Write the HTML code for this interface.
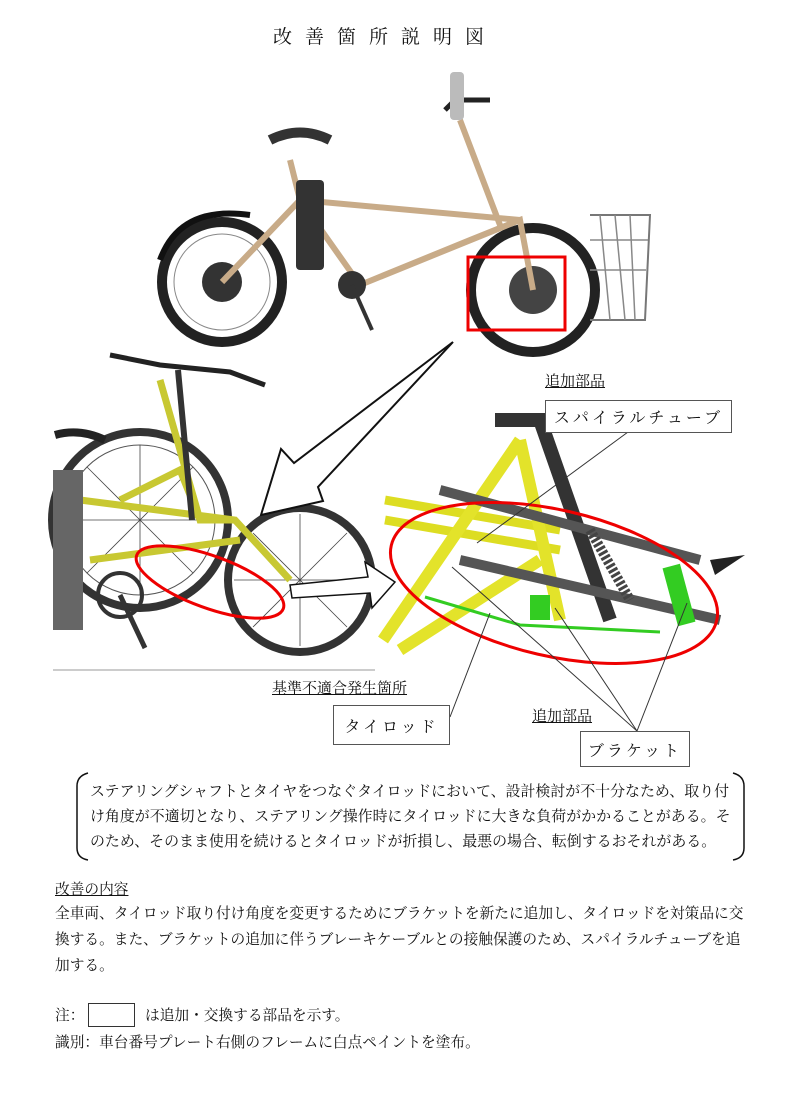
<!DOCTYPE html>
<html><head><meta charset="utf-8"><style>
body{margin:0;background:#fff;}
#p{position:relative;width:800px;height:1096px;overflow:hidden;font-family:"Liberation Serif","Noto Serif CJK SC","Noto Sans CJK JP",serif;color:#111;}
.t{position:absolute;white-space:nowrap;font-size:14.7px;line-height:1;}
.u{text-decoration:underline;}
.box{position:absolute;border:1px solid #555;background:#fff;box-sizing:border-box;font-size:16px;display:flex;align-items:center;justify-content:center;letter-spacing:3px;}
</style></head><body><div id="p">
<div class="t" style="left:273px;top:28px;font-size:19px;letter-spacing:13px;">改善箇所説明図</div>

<svg width="800" height="1096" style="position:absolute;left:0;top:0">
<!-- top bike -->
<g>
<circle cx="222" cy="282" r="60" fill="none" stroke="#222" stroke-width="10"/>
<circle cx="222" cy="282" r="48" fill="none" stroke="#888" stroke-width="1"/>
<circle cx="222" cy="282" r="20" fill="#333"/>
<path d="M160 260 Q180 205 250 215" fill="none" stroke="#111" stroke-width="6"/>
<circle cx="533" cy="290" r="62" fill="none" stroke="#222" stroke-width="10"/>
<circle cx="533" cy="290" r="24" fill="#444"/>
<path d="M590 215 L650 215 L645 320 L590 320" fill="none" stroke="#777" stroke-width="2"/>
<path d="M600 215 L610 320 M615 215 L625 320 M630 215 L635 320 M590 240 L648 240 M590 270 L646 270" stroke="#888" stroke-width="1.5"/>
<path d="M222 282 L300 200 L360 285 L470 240 L520 220 L300 200 M360 285 L520 220 L533 290 M300 200 L290 160 M460 120 L500 225" fill="none" stroke="#c8ab88" stroke-width="6"/>
<path d="M445 110 L455 100 L490 100" stroke="#222" stroke-width="5" fill="none"/>
<rect x="450" y="72" width="14" height="48" rx="4" fill="#bbb"/>
<path d="M270 140 Q300 125 330 140" stroke="#333" stroke-width="10" fill="none"/>
<rect x="296" y="180" width="28" height="90" rx="4" fill="#333"/>
<circle cx="352" cy="285" r="14" fill="#333"/>
<line x1="352" y1="285" x2="372" y2="330" stroke="#333" stroke-width="4"/>
<rect x="468" y="257" width="97" height="73" fill="none" stroke="#e00" stroke-width="3"/>
</g>
<!-- left CAD -->
<g>
<circle cx="140" cy="520" r="88" fill="none" stroke="#333" stroke-width="8"/>
<circle cx="140" cy="520" r="75" fill="none" stroke="#555" stroke-width="1"/>
<g stroke="#444" stroke-width="0.8">
<line x1="140" y1="445" x2="140" y2="595"/><line x1="65" y1="520" x2="215" y2="520"/><line x1="87" y1="467" x2="193" y2="573"/><line x1="193" y1="467" x2="87" y2="573"/>
</g>
<circle cx="300" cy="580" r="72" fill="none" stroke="#333" stroke-width="8"/>
<g stroke="#444" stroke-width="0.8">
<line x1="300" y1="514" x2="300" y2="646"/><line x1="234" y1="580" x2="366" y2="580"/><line x1="253" y1="533" x2="347" y2="627"/><line x1="347" y1="533" x2="253" y2="627"/>
</g>
<path d="M80 500 L235 520 L290 580 M90 560 L240 540 M160 380 L200 520 L235 520 M120 500 L180 470 L200 520" fill="none" stroke="#c8c832" stroke-width="7"/>
<path d="M110 355 L160 365 L230 372 L265 385" fill="none" stroke="#222" stroke-width="5"/>
<line x1="178" y1="370" x2="192" y2="520" stroke="#333" stroke-width="6"/>
<path d="M55 435 Q80 428 105 440" stroke="#222" stroke-width="8" fill="none"/>
<rect x="53" y="470" width="30" height="160" fill="#666"/>
<circle cx="120" cy="595" r="22" fill="none" stroke="#333" stroke-width="4"/>
<line x1="120" y1="595" x2="145" y2="648" stroke="#333" stroke-width="5"/>
<ellipse cx="210" cy="582" rx="78" ry="26" transform="rotate(20 210 582)" fill="none" stroke="#e00" stroke-width="3"/>
<line x1="53" y1="670" x2="375" y2="670" stroke="#999" stroke-width="1"/>
</g>
<!-- big arrow -->
<path d="M453 342 L294 463 L281 449 L261 515 L323 501 L318 487 Z" fill="#fff" stroke="#111" stroke-width="2"/>
<!-- small arrow -->
<path d="M290 585 L368 577 L365 562 L395 582 L372 608 L370 593 L292 598 Z" fill="#fff" stroke="#111" stroke-width="1.5"/>
<!-- right CAD -->
<g>
<path d="M385 500 L560 530 M385 520 L560 550" stroke="#dddd22" stroke-width="9"/>
<path d="M383 640 L520 440 M400 650 L540 560 M520 440 L560 620" stroke="#e3e32a" stroke-width="12"/>
<path d="M495 420 L540 420 L610 620" stroke="#333" stroke-width="14" fill="none"/>
<path d="M440 490 L700 560 M460 560 L720 620" stroke="#555" stroke-width="10"/>
<path d="M590 530 L630 600" stroke="#444" stroke-width="10" stroke-dasharray="3 2"/>
<path d="M425 597 L520 625 L660 632" stroke="#33cc22" stroke-width="3" fill="none"/>
<rect x="670" y="565" width="18" height="60" fill="#33cc22" transform="rotate(-15 679 595)"/>
<rect x="530" y="595" width="20" height="25" fill="#33cc22"/>
<path d="M710 560 L745 555 L715 575Z" fill="#222"/>
<ellipse cx="554" cy="583" rx="167" ry="73" transform="rotate(13 554 583)" fill="none" stroke="#e00" stroke-width="3"/>
</g>
<!-- leaders -->
<g stroke="#333" stroke-width="1" fill="none">
<line x1="628" y1="432" x2="477" y2="543"/>
<line x1="450" y1="717" x2="490" y2="613"/>
<line x1="637" y1="731" x2="452" y2="567"/>
<line x1="637" y1="731" x2="555" y2="608"/>
<line x1="637" y1="731" x2="687" y2="603"/>
</g>
<!-- brackets -->
<path d="M88 773 Q77 776 77 786 L77 848 Q77 858 88 860" fill="none" stroke="#111" stroke-width="1.5"/>
<path d="M733 773 Q744 776 744 786 L744 848 Q744 858 733 860" fill="none" stroke="#111" stroke-width="1.5"/>
</svg>

<div class="t u" style="left:545px;top:375px;font-size:15px">追加部品</div>
<div class="box" style="left:545px;top:400px;width:187px;height:33px">スパイラルチューブ</div>
<div class="t u" style="left:272px;top:682px;font-size:15px">基準不適合発生箇所</div>
<div class="box" style="left:333px;top:705px;width:117px;height:40px">タイロッド</div>
<div class="t u" style="left:532px;top:710px;font-size:15px">追加部品</div>
<div class="box" style="left:580px;top:731px;width:110px;height:36px">ブラケット</div>

<div class="t" style="left:90px;top:785px;font-size:14.95px">ステアリングシャフトとタイヤをつなぐタイロッドにおいて、設計検討が不十分なため、取り付</div>
<div class="t" style="left:90px;top:810px;font-size:14.95px">け角度が不適切となり、ステアリング操作時にタイロッドに大きな負荷がかかることがある。そ</div>
<div class="t" style="left:90px;top:835px;font-size:14.95px">のため、そのまま使用を続けるとタイロッドが折損し、最悪の場合、転倒するおそれがある。</div>

<div class="t u" style="left:55px;top:883px">改善の内容</div>
<div class="t" style="left:55px;top:907px">全車両、タイロッド取り付け角度を変更するためにブラケットを新たに追加し、タイロッドを対策品に交</div>
<div class="t" style="left:55px;top:933px">換する。また、ブラケットの追加に伴うブレーキケーブルとの接触保護のため、スパイラルチューブを追</div>
<div class="t" style="left:55px;top:959px">加する。</div>

<div class="t" style="left:55px;top:1009px">注：</div>
<div style="position:absolute;left:88px;top:1003px;width:47px;height:24px;border:1px solid #333;box-sizing:border-box"></div>
<div class="t" style="left:145px;top:1009px">は追加・交換する部品を示す。</div>
<div class="t" style="left:55px;top:1036px">識別：車台番号プレート右側のフレームに白点ペイントを塗布。</div>
</div></body></html>
